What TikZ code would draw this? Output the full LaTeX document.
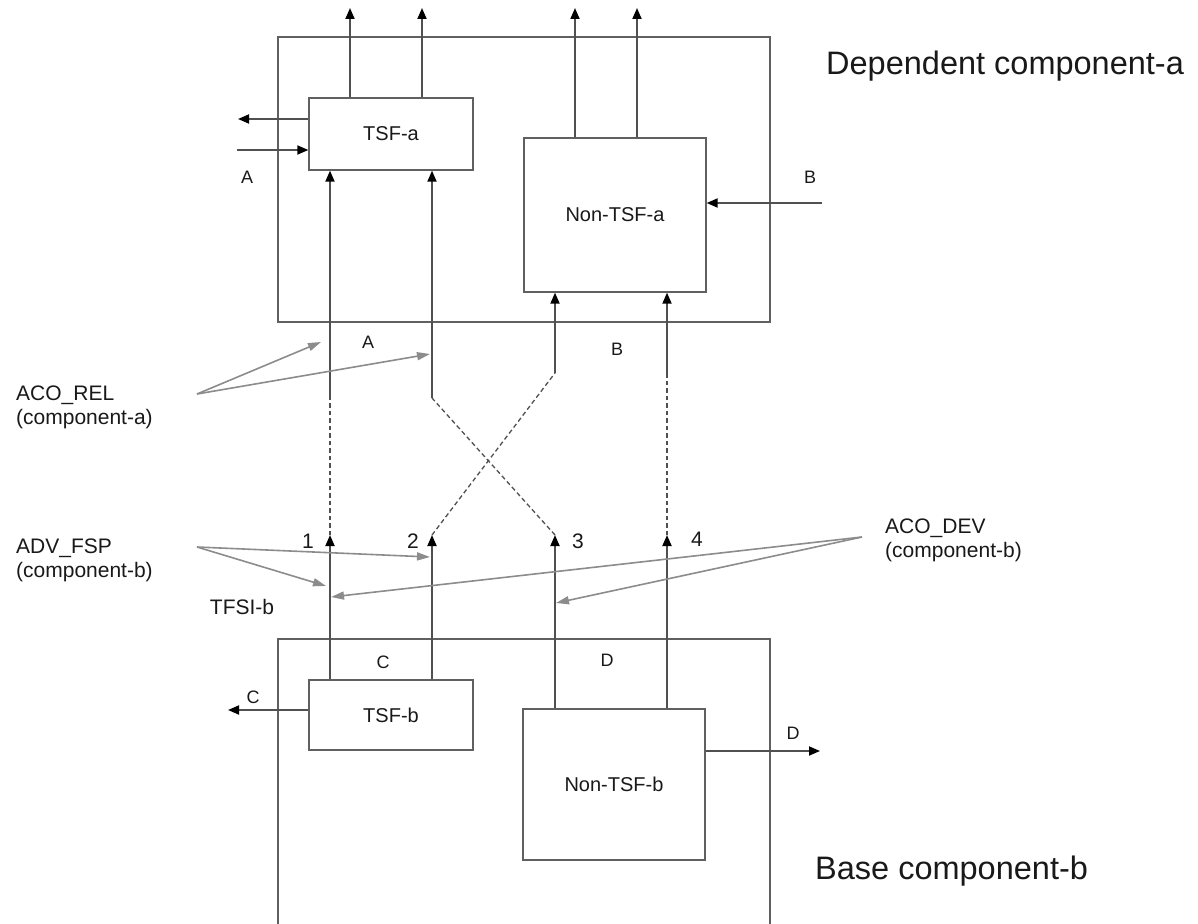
\documentclass[tikz,border=0pt]{standalone}
\usepackage{fontspec}
\setmainfont{Liberation Sans}
\usetikzlibrary{arrows.meta}
\definecolor{boxgray}{RGB}{96,96,96}
\definecolor{linegray}{RGB}{80,80,80}
\definecolor{anngray}{RGB}{140,140,140}
\definecolor{txt}{RGB}{25,25,25}
\begin{document}
\begin{tikzpicture}[x=1pt,y=-1pt,
  box/.style={draw=boxgray, line width=1.3pt, inner sep=0pt, font=\fontsize{20}{24}\selectfont, text=txt},
  outer/.style={draw=boxgray, line width=1.3pt, inner sep=0pt},
  conn/.style={draw=linegray, line width=1.8pt},
  tip/.style={-{Triangle[length=11pt,width=9pt,color=black]}},
  dashconn/.style={draw=linegray, line width=1.3pt, dash pattern=on 4.5pt off 3pt},
  ann/.style={draw=anngray, line width=1.6pt, -{Triangle[length=13pt,width=8pt]}},
  lab/.style={font=\fontsize{18}{20}\selectfont, text=txt, inner sep=0pt},
  num/.style={font=\fontsize{21}{24}\selectfont, text=txt, inner sep=0pt},
  side/.style={font=\fontsize{21}{24}\selectfont, text=txt, inner sep=0pt, align=left, anchor=west},
  big/.style={font=\fontsize{32.5}{36}\selectfont, text=txt, inner sep=0pt, anchor=west}
]
\useasboundingbox (0,0) rectangle (1198,923);
\fill[white] (0,0) rectangle (1198,923);

% outer boxes
\node[outer, minimum width=492pt, minimum height=285pt] (outerA) at (524,179.5) {};
\node[outer, minimum width=492pt, minimum height=291pt] (outerB) at (524,784.5) {};

% inner boxes
\node[box, minimum width=164pt, minimum height=72pt] (tsfa) at (391,134) {TSF-a};
\node[box, minimum width=182pt, minimum height=154pt] (ntsfa) at (615,215) {Non-TSF-a};
\node[box, minimum width=164pt, minimum height=70pt] (tsfb) at (391,715) {TSF-b};
\node[box, minimum width=182pt, minimum height=151pt] (ntsfb) at (614,784.5) {Non-TSF-b};

% free-end coordinates
\coordinate (o1) at (350,8);
\coordinate (o2) at (422,8);
\coordinate (o3) at (575,8);
\coordinate (o4) at (637,8);
\coordinate (aout) at (238,119);
\coordinate (ain) at (237,150);
\coordinate (bin) at (822,203);
\coordinate (cout) at (228,710);
\coordinate (dout) at (820,751);

\coordinate (p1) at (330,535);
\coordinate (p2) at (432,535);
\coordinate (p3) at (555,535);
\coordinate (p4) at (667,535);
\coordinate (q1) at (330,397);
\coordinate (q2) at (432,398);
\coordinate (q3) at (555,373);
\coordinate (q4) at (667,377);

% outputs on top
\draw[conn,tip] (tsfa.north -| o1) -- (o1);
\draw[conn,tip] (tsfa.north -| o2) -- (o2);
\draw[conn,tip] (ntsfa.north -| o3) -- (o3);
\draw[conn,tip] (ntsfa.north -| o4) -- (o4);

% side arrows
\draw[conn,tip] (tsfa.west |- aout) -- (aout);
\draw[conn,tip] (ain) -- (tsfa.west |- ain);
\draw[conn,tip] (bin) -- (ntsfa.east |- bin);
\draw[conn,tip] (tsfb.west |- cout) -- (cout);
\draw[conn,tip] (ntsfb.east |- dout) -- (dout);

% lower solid arrows 1-4
\draw[conn,tip] (tsfb.north -| p1) -- (p1);
\draw[conn,tip] (tsfb.north -| p2) -- (p2);
\draw[conn,tip] (ntsfb.north -| p3) -- (p3);
\draw[conn,tip] (ntsfb.north -| p4) -- (p4);

% dashed links
\draw[dashconn] (p1) -- (q1);
\draw[dashconn] (p2) -- (q3);
\draw[dashconn] (p3) -- (q2);
\draw[dashconn] (p4) -- (q4);

% upper solid arrows
\draw[conn,tip] (q1) -- (tsfa.south -| q1);
\draw[conn,tip] (q2) -- (tsfa.south -| q2);
\draw[conn,tip] (q3) -- (ntsfa.south -| q3);
\draw[conn,tip] (q4) -- (ntsfa.south -| q4);

% letter labels
\node[lab] (lA1) at (247,177) {A};
\node[lab] (lA2) at (368,342) {A};
\node[lab] (lB1) at (810,177) {B};
\node[lab] (lB2) at (617,349) {B};
\node[lab] (lC1) at (253,697) {C};
\node[lab] (lC2) at (383,662) {C};
\node[lab] (lD1) at (607,660) {D};
\node[lab] (lD2) at (793,733) {D};

% numbers
\node[num] (n1) at (308,541) {1};
\node[num] (n2) at (413,541) {2};
\node[num] (n3) at (578,541) {3};
\node[num] (n4) at (697,539) {4};

% side texts
\node[side] (rel) at (16,407) {ACO\_REL\\(component-a)};
\node[side] (fsp) at (16,560) {ADV\_FSP\\(component-b)};
\node[side] (dev) at (885,540) {ACO\_DEV\\(component-b)};
\node[num] (tfsi) at (242,607) {TFSI-b};

% annotation arrows
\coordinate (sR) at (197,394);
\coordinate (sF) at (197,547);
\coordinate (sD) at (862,537);
\coordinate (eR1) at (321,342);
\coordinate (eR2) at (430,354);
\coordinate (eF1) at (430,557);
\coordinate (eF2) at (326,586);
\coordinate (eD1) at (331,597);
\coordinate (eD2) at (556,603);
\draw[ann] (sR) -- (eR1);
\draw[ann] (sR) -- (eR2);
\draw[ann] (sF) -- (eF1);
\draw[ann] (sF) -- (eF2);
\draw[ann] (sD) -- (eD1);
\draw[ann] (sD) -- (eD2);

% big labels
\node[big] (depA) at (826,66) {Dependent component-a};
\node[big] (baseB) at (815,871) {Base component-b};
\end{tikzpicture}
\end{document}
